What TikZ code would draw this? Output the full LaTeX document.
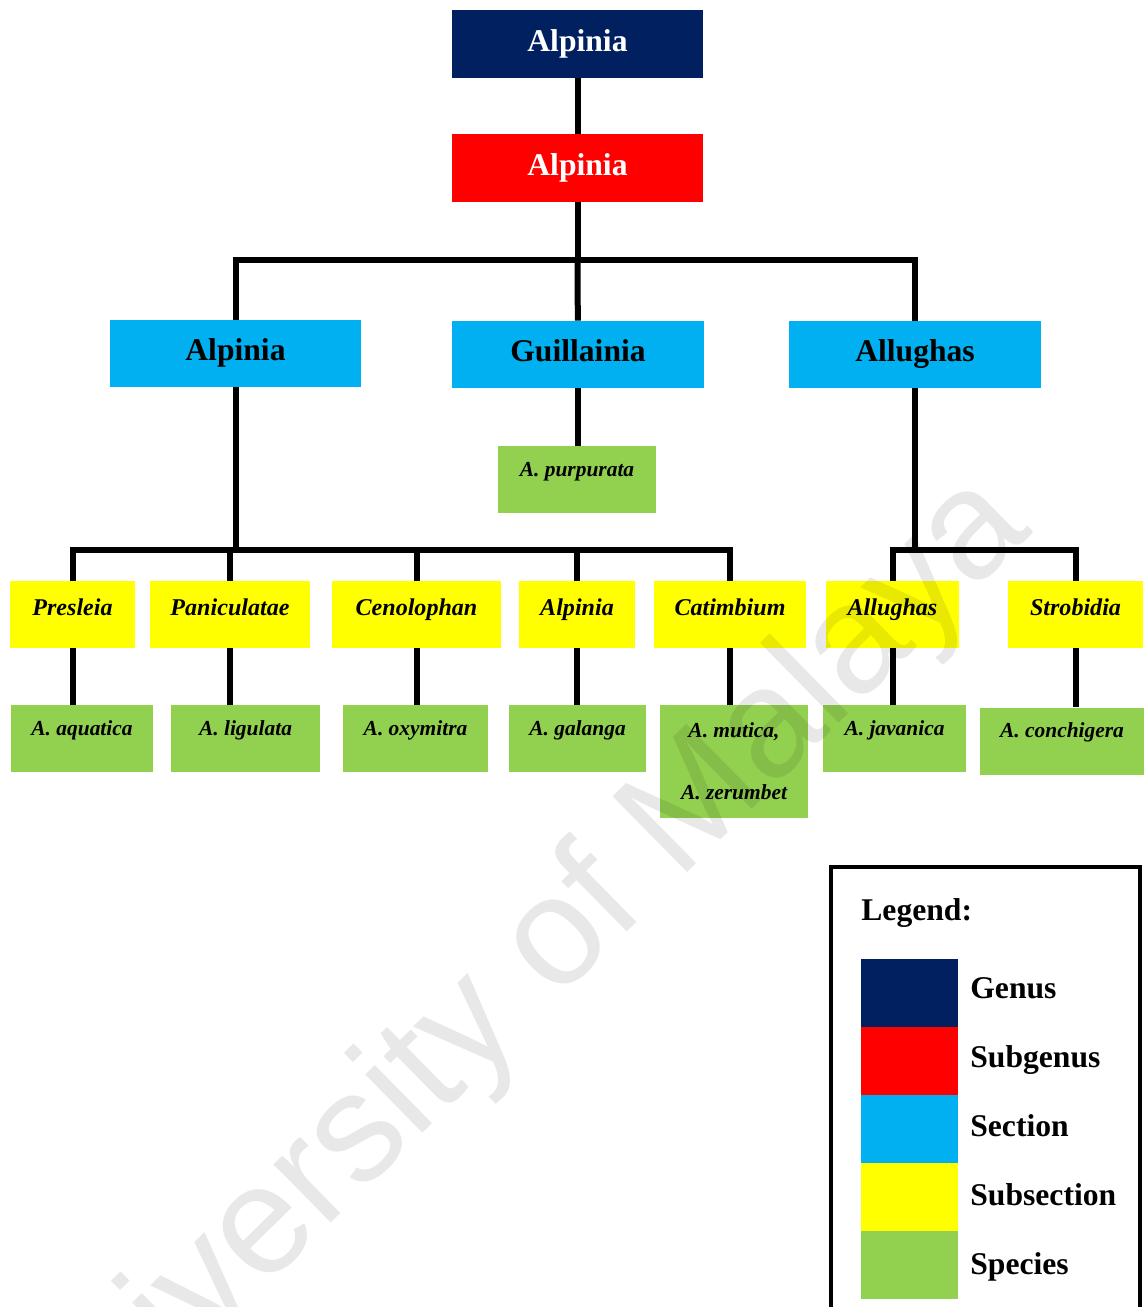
\documentclass[tikz,border=0pt]{standalone}
\usepackage{fontspec}
\setmainfont{Liberation Serif}
\newfontfamily\wmfont{Liberation Sans}
\usepackage{tikz}
\usetikzlibrary{calc}
\definecolor{genuscol}{HTML}{002060}
\definecolor{subgenuscol}{HTML}{FF0000}
\definecolor{sectioncol}{HTML}{00B0F0}
\definecolor{subsectcol}{HTML}{FFFF00}
\definecolor{speciescol}{HTML}{92D050}

\begin{document}
\begin{tikzpicture}[x=0.02cm, y=-0.02cm,
    taxbox/.style={inner sep=0pt},
    genusbox/.style={taxbox, fill=genuscol, text=white, minimum width=5.02cm,
      text height=0.84cm, text depth=0.52cm, font=\fontsize{18}{21}\selectfont\bfseries},
    subgenusbox/.style={genusbox, fill=subgenuscol},
    sectionbox/.style={taxbox, fill=sectioncol, minimum width=5.04cm,
      text height=0.82cm, text depth=0.52cm, font=\fontsize{18}{21}\selectfont\bfseries},
    subsectbox/.style={taxbox, fill=subsectcol, text height=0.68cm, text depth=0.66cm,
      font=\fontsize{13.7}{16}\selectfont\bfseries\itshape},
    speciesbox/.style={taxbox, fill=speciescol,
      font=\fontsize{12.2}{35.2}\selectfont\bfseries\itshape},
    oneline/.style={text height=0.6cm, text depth=0.74cm},
    link/.style={line width=0.12cm},
    legkey/.style={minimum width=1.94cm, minimum height=1.36cm, inner sep=0pt},
    legtext/.style={anchor=base west, inner sep=0pt, font=\fontsize{18}{21}\selectfont\bfseries},
    watermark/.style={text=black, text opacity=0.09, rotate=44.5,
      font=\wmfont\fontsize{88}{88}\selectfont}]
  \useasboundingbox (0,0) rectangle (1144,1307);
  \fill[white] (0,0) rectangle (1144,1307);
  \clip (0,0) rectangle (1144,1307);

  \node[genusbox] (genus) at (577.5,44) {Alpinia};
  \node[subgenusbox] (subgenus) at (577.5,168) {Alpinia};

  \node[sectionbox] (secalp) at (235.5,353.5) {Alpinia};
  \node[sectionbox] (secgui) at (578,354.5) {Guillainia};
  \node[sectionbox] (secall) at (915,354.5) {Allughas};
  \node[speciesbox, oneline, minimum width=3.16cm] (purpurata) at (577,479.5) {A. purpurata};

  \node[subsectbox, minimum width=2.5cm] (presleia) at (72.5,614.5) {Presleia};
  \node[subsectbox, minimum width=3.2cm] (paniculatae) at (230,614.5) {Paniculatae};
  \node[subsectbox, minimum width=3.38cm] (cenolophan) at (416.5,614.5) {Cenolophan};
  \node[subsectbox, minimum width=2.32cm] (subalp) at (577,614.5) {Alpinia};
  \node[subsectbox, minimum width=3.04cm] (catimbium) at (730,614.5) {Catimbium};
  \node[subsectbox, minimum width=2.66cm] (suball) at (892.5,614.5) {Allughas};
  \node[subsectbox, minimum width=2.7cm] (strobidia) at (1075.5,614.5) {Strobidia};

  \node[speciesbox, oneline, minimum width=2.84cm] (aquatica) at (82,738.5) {A. aquatica};
  \node[speciesbox, oneline, minimum width=2.98cm] (ligulata) at (245.5,738.5) {A. ligulata};
  \node[speciesbox, oneline, minimum width=2.9cm] (oxymitra) at (415.5,738.5) {A. oxymitra};
  \node[speciesbox, oneline, minimum width=2.74cm] (galanga) at (577.5,738.5) {A. galanga};
  \node[speciesbox, align=center, minimum width=2.96cm, minimum height=2.26cm] (mutica) at (734,761.5) {A. mutica,\\A. zerumbet};
  \node[speciesbox, oneline, minimum width=2.86cm] (javanica) at (894.5,738.5) {A. javanica};
  \node[speciesbox, oneline, minimum width=3.28cm] (conchigera) at (1062,741) {A. conchigera};

  \draw[link] (genus) -- (subgenus);
  \coordinate (bustop) at (subgenus.south |- 0,260);
  \draw[link] (subgenus) -- (bustop);
  \draw[link] (secalp.north) |- (bustop) -| (secall.north);
  \draw[link] (bustop) -- (secgui);

  \coordinate (busalp) at (secalp.south |- 0,550);
  \draw[link] (secalp) -- (busalp);
  \draw[link] (presleia.north) |- (busalp) -| (catimbium.north);
  \foreach \s in {paniculatae, cenolophan, subalp}
    \draw[link] (\s.north) -- (\s.north |- busalp);

  \draw[link] (secgui.south) -- (secgui.south |- purpurata.north);

  \coordinate (busall) at (secall.south |- 0,550);
  \draw[link] (secall) -- (busall);
  \draw[link] (suball.north) |- (busall) -| (strobidia.north);

  \foreach \s/\t in {presleia/aquatica, paniculatae/ligulata, cenolophan/oxymitra,
      subalp/galanga, catimbium/mutica, suball/javanica, strobidia/conchigera}
    \draw[link] (\s.south) -- (\s.south |- \t.north);

  \draw[line width=0.09cm] (831,867) rectangle (1140,1340);
  \node[legtext] (legtitle) at (861,920) {Legend:};
  \foreach \c/\t [count=\i from 0] in {genuscol/Genus, subgenuscol/Subgenus,
      sectioncol/Section, subsectcol/Subsection, speciescol/Species} {
    \node[legkey, fill=\c] (key\i) at (909,993+68*\i) {};
    \node[legtext] (keyname\i) at (970,998+69*\i) {\t};
  }

  \node[watermark] (wmark) at (510,991) {University of Malaya};
\end{tikzpicture}
\end{document}
